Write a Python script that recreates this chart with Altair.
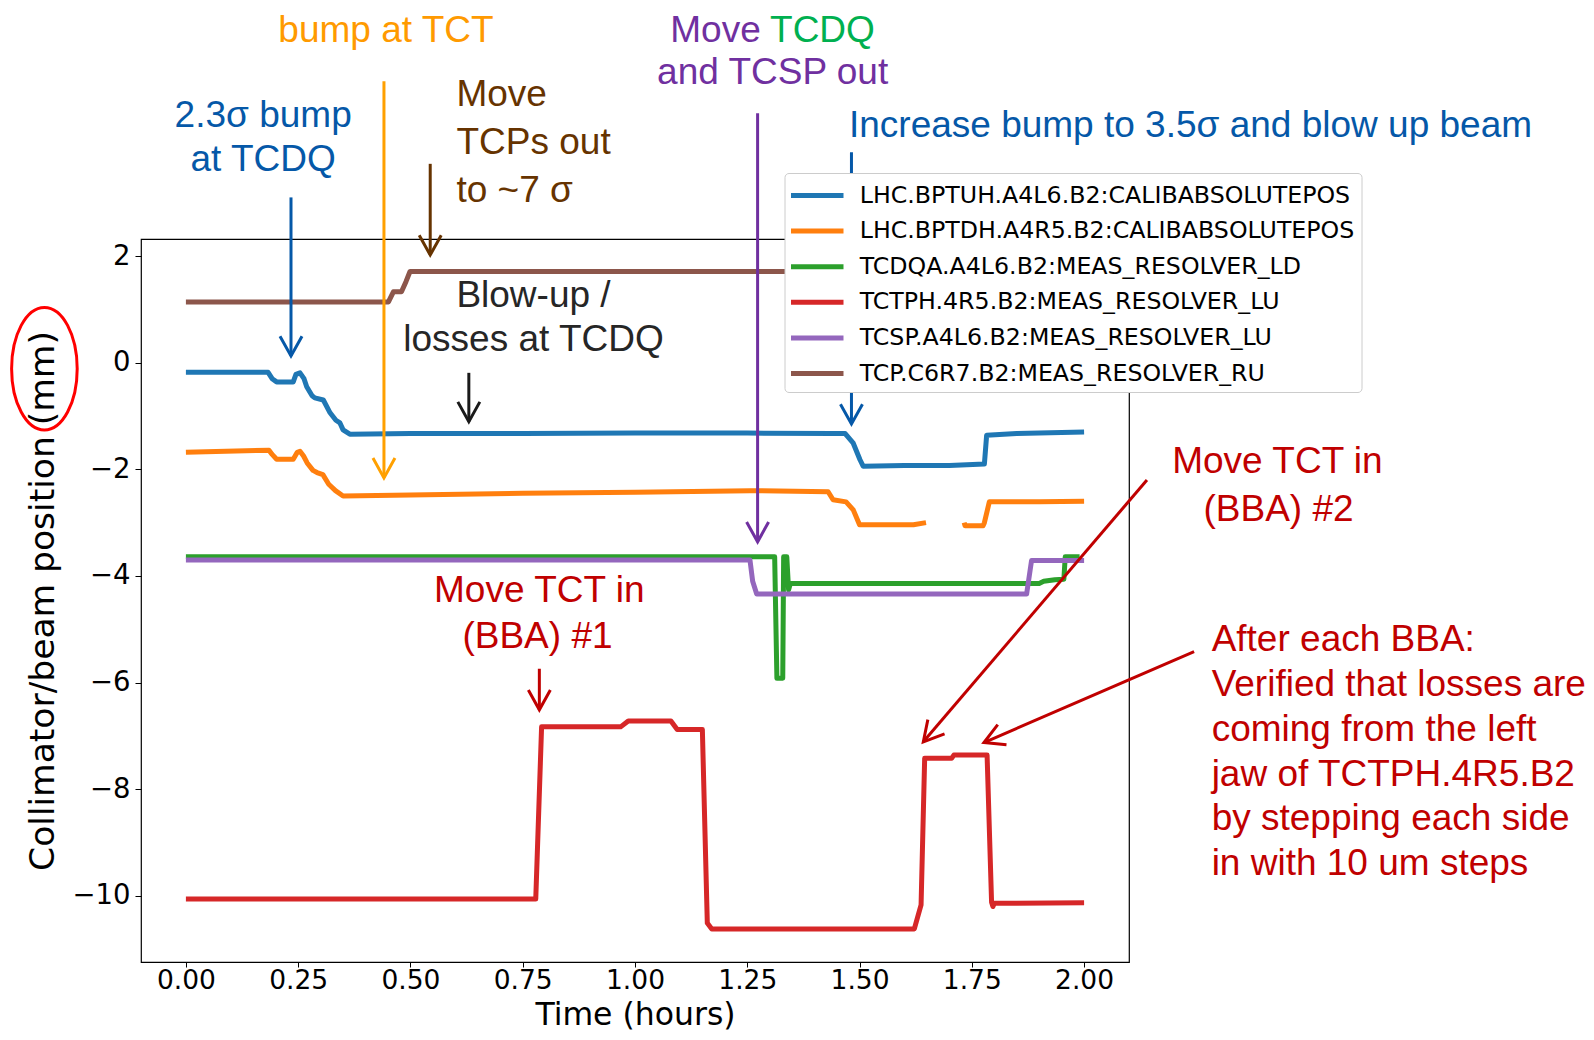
import altair as alt
import pandas as pd

# ---------------- series ----------------
SERIES = [
    "LHC.BPTUH.A4L6.B2:CALIBABSOLUTEPOS",
    "LHC.BPTDH.A4R5.B2:CALIBABSOLUTEPOS",
    "TCDQA.A4L6.B2:MEAS_RESOLVER_LD",
    "TCTPH.4R5.B2:MEAS_RESOLVER_LU",
    "TCSP.A4L6.B2:MEAS_RESOLVER_LU",
    "TCP.C6R7.B2:MEAS_RESOLVER_RU",
]
COLORS = ["#1f77b4", "#ff7f0e", "#2ca02c", "#d62728", "#9467bd", "#8c564b"]

bptuh_t = [0.0, 0.183, 0.192, 0.202, 0.239, 0.245, 0.254, 0.263, 0.269, 0.281, 0.287,
           0.306, 0.321, 0.334, 0.343, 0.350, 0.365, 0.50, 0.75, 1.00, 1.25, 1.44,
           1.468, 1.486, 1.501, 1.508, 1.60, 1.70, 1.778, 1.783, 1.85, 2.0]
bptuh_y = [-0.18, -0.18, -0.30, -0.36, -0.36, -0.22, -0.19, -0.30, -0.45, -0.62, -0.66,
           -0.70, -0.94, -1.08, -1.13, -1.26, -1.34, -1.33, -1.33, -1.32, -1.32, -1.33,
           -1.33, -1.51, -1.82, -1.94, -1.93, -1.93, -1.90, -1.36, -1.33, -1.30]

bptdh_t_a = [0.0, 0.185, 0.192, 0.202, 0.239, 0.248, 0.254, 0.262, 0.270, 0.283, 0.292,
             0.305, 0.318, 0.333, 0.350, 0.50, 0.75, 1.00, 1.256, 1.43, 1.441, 1.47,
             1.486, 1.50, 1.62, 1.648]
bptdh_y_a = [-1.68, -1.64, -1.72, -1.81, -1.81, -1.68, -1.66, -1.75, -1.88, -2.02, -2.06,
             -2.10, -2.28, -2.40, -2.50, -2.48, -2.45, -2.43, -2.40, -2.42, -2.57, -2.61,
             -2.76, -3.04, -3.04, -3.00]
bptdh_t_b = [1.733, 1.735, 1.775, 1.778, 1.789, 1.90, 2.0]
bptdh_y_b = [-3.00, -3.06, -3.06, -3.00, -2.61, -2.61, -2.60]

tcdqa_t = [0.0, 1.311, 1.316, 1.329, 1.331, 1.338, 1.342, 1.346, 1.90, 1.91, 1.935,
           1.955, 1.958, 1.99]
tcdqa_y = [-3.64, -3.64, -5.92, -5.92, -3.64, -3.64, -4.26, -4.14, -4.14, -4.10, -4.07,
           -4.06, -3.64, -3.64]

tctph_t = [0.0, 0.779, 0.792, 0.968, 0.985, 1.080, 1.094, 1.150, 1.161, 1.171, 1.622,
           1.637, 1.645, 1.705, 1.710, 1.784, 1.794, 1.797, 1.800, 2.0]
tctph_y = [-10.06, -10.06, -6.83, -6.83, -6.72, -6.72, -6.88, -6.88, -10.51, -10.62, -10.62,
           -10.17, -7.42, -7.42, -7.36, -7.36, -10.12, -10.20, -10.14, -10.13]

tcsp_t = [0.0, 1.256, 1.262, 1.271, 1.872, 1.883, 2.0]
tcsp_y = [-3.70, -3.70, -4.10, -4.34, -4.34, -3.71, -3.71]

tcp_t = [0.0, 0.451, 0.462, 0.480, 0.490, 0.499, 1.00, 1.50, 2.0]
tcp_y = [1.14, 1.14, 1.33, 1.33, 1.52, 1.71, 1.71, 1.71, 1.71]

X_TICKS = [0.0, 0.25, 0.5, 0.75, 1.0, 1.25, 1.5, 1.75, 2.0]
Y_TICKS = [-10, -8, -6, -4, -2, 0, 2]

# ---------------- annotations ----------------
BLUE_T, ORANGE_T, BROWN_T, GRAY_T = "#0558A8", "#FF9A00", "#663300", "#262626"
PURPLE_T, GREEN_T, RED_T = "#7030A0", "#00B050", "#C00000"

center_text = ["bump at TCT", "and TCSP out", "2.3σ bump", "at TCDQ", "Blow-up /",
               "losses at TCDQ", "Move TCT in", "(BBA) #1", "Move TCT in", "(BBA) #2"]
center_x = [0.4454, 1.3065, 0.172, 0.172, 0.774, 0.774, 0.7868, 0.7829, 2.4305, 2.433]
center_y = [6.23, 5.43, 4.62, 3.81, 1.245, 0.426, -4.28, -5.145, -1.87, -2.76]
center_c = [ORANGE_T, PURPLE_T, BLUE_T, BLUE_T, GRAY_T, GRAY_T, RED_T, RED_T, RED_T, RED_T]

left_text = ["Move", "TCDQ", "Move", "TCPs out", "to ~7 σ",
             "Increase bump to 3.5σ and blow up beam",
             "After each BBA:", "Verified that losses are", "coming from the left",
             "jaw of TCTPH.4R5.B2", "by stepping each side", "in with 10 um steps"]
left_x = [1.0785, 1.3007, 0.6024, 0.6024, 0.6024, 1.4764,
          2.284, 2.284, 2.284, 2.284, 2.284, 2.284]
left_y = [6.23, 6.23, 5.03, 4.12, 3.22, 4.43,
          -5.205, -6.048, -6.898, -7.736, -8.567, -9.407]
left_c = [PURPLE_T, GREEN_T, BROWN_T, BROWN_T, BROWN_T, BLUE_T,
          RED_T, RED_T, RED_T, RED_T, RED_T, RED_T]

arrow_x0 = [0.234, 0.441, 0.544, 0.630, 1.273, 1.482, 0.787, 2.140, 2.245]
arrow_y0 = [3.10, 5.28, 3.73, -0.19, 4.68, 3.945, -5.74, -2.20, -5.42]
arrow_x1 = [0.234, 0.441, 0.544, 0.630, 1.273, 1.482, 0.787, 1.642, 1.777]
arrow_y1 = [0.126, -2.16, 2.02, -1.106, -3.36, -1.15, -6.51, -7.11, -7.125]
arrow_angle = [0, 0, 0, 0, 0, 0, 0, 40.6, 66.6]
arrow_c = [BLUE_T, "#FFA000", BROWN_T, "#1A1A1A", PURPLE_T, BLUE_T, RED_T, RED_T, RED_T]

ellipse_x = [-0.3151]
ellipse_y = [-0.1125]

# ---------------- tables ----------------
rows = []
def add(name, seg, ts, ys):
    for t, y in zip(ts, ys):
        rows.append({"series": name, "seg": seg, "t": t, "y": y})

add(SERIES[0], "a", bptuh_t, bptuh_y)
add(SERIES[1], "a", bptdh_t_a, bptdh_y_a)
add(SERIES[1], "b", bptdh_t_b, bptdh_y_b)
add(SERIES[2], "a", tcdqa_t, tcdqa_y)
add(SERIES[3], "a", tctph_t, tctph_y)
add(SERIES[4], "a", tcsp_t, tcsp_y)
add(SERIES[5], "a", tcp_t, tcp_y)
df = pd.DataFrame(rows)

ctext = pd.DataFrame({"t": center_x, "y": center_y, "label": center_text, "c": center_c})
ltext = pd.DataFrame({"t": left_x, "y": left_y, "label": left_text, "c": left_c})
arrows = pd.DataFrame({"t": arrow_x0, "y": arrow_y0, "t2": arrow_x1, "y2": arrow_y1,
                       "ang": arrow_angle, "c": arrow_c})
ell = pd.DataFrame({"t": ellipse_x, "y": ellipse_y})

XS = alt.Scale(domain=[-0.1, 2.1], nice=False, zero=False)
YS = alt.Scale(domain=[-11.24, 2.32], nice=False, zero=False)
XT = "Time (hours)"
YT = "Collimator/beam position (mm)"

x_axis = alt.Axis(values=X_TICKS, format=".2f", grid=False, domain=False,
                  tickSize=5, tickColor="black", labelPadding=0, labelFontSize=26.5,
                  labelFont="DejaVu Sans", labelColor="black", titleFontSize=31.5,
                  titleFont="DejaVu Sans", titleFontWeight="normal", titleColor="black",
                  titlePadding=5.8, labelFlush=False)
y_axis = alt.Axis(values=Y_TICKS, format="d", grid=False, domain=False,
                  tickSize=6, tickColor="black", labelPadding=5, labelFontSize=27.5,
                  labelFont="DejaVu Sans", labelColor="black", titleFontSize=34.5,
                  titleFont="DejaVu Sans", titleFontWeight="normal", titleColor="black",
                  titlePadding=11, labelFlush=False)

def X(f="t"):
    return alt.X(f"{f}:Q", scale=XS, axis=x_axis, title=XT)

def Y(f="y"):
    return alt.Y(f"{f}:Q", scale=YS, axis=y_axis, title=YT)

legend = alt.Legend(
    orient="none", legendX=643.5, legendY=-66, title=None,
    symbolType="M-2,0H2", symbolSize=689, symbolStrokeWidth=5, symbolOffset=10.25,
    labelOffset=26.5, rowPadding=7.6, padding=6.5,
    fillColor="white", strokeColor="#cccccc", cornerRadius=4,
    labelFont="DejaVu Sans", labelFontSize=23.7, labelColor="black", labelLimit=1000,
)

lines = alt.Chart(df).mark_line(strokeWidth=5, strokeJoin="round", clip=True).encode(
    x=X(), y=Y(),
    color=alt.Color("series:N", scale=alt.Scale(domain=SERIES, range=COLORS), legend=legend),
    detail="seg:N",
    order="t:Q",
)

shafts = alt.Chart(arrows).mark_rule(strokeWidth=3).encode(
    x=X(), y=Y(), x2="t2:Q", y2="y2:Q",
    stroke=alt.Stroke("c:N", scale=None),
)

heads = alt.Chart(arrows).mark_point(
    shape="M-1,-1.8L0,0L1,-1.8", filled=False, strokeWidth=3, size=484, opacity=1
).encode(
    x=X("t2"), y=Y("y2"),
    angle=alt.Angle("ang:Q", scale=None),
    stroke=alt.Stroke("c:N", scale=None),
)

ctext_l = alt.Chart(ctext).mark_text(font="Liberation Sans", fontSize=37, align="center",
                                     baseline="middle").encode(
    x=X(), y=Y(), text="label:N", fill=alt.Fill("c:N", scale=None))

ltext_l = alt.Chart(ltext).mark_text(font="Liberation Sans", fontSize=37, align="left",
                                     baseline="middle").encode(
    x=X(), y=Y(), text="label:N", fill=alt.Fill("c:N", scale=None))

ellipse = alt.Chart(ell).mark_point(
    shape="M0,-1C0.2955,-1 0.535,-0.5523 0.535,0C0.535,0.5523 0.2955,1 0,1C-0.2955,1 -0.535,0.5523 -0.535,0C-0.535,-0.5523 -0.2955,-1 0,-1Z",
    filled=False, stroke="#FF0000", strokeWidth=3, size=15031, opacity=1,
).encode(x=X(), y=Y())

chart = alt.layer(lines, shafts, heads, ctext_l, ltext_l, ellipse).properties(
    width=988, height=723,
    autosize=alt.AutoSizeParams(type="none"),
    padding={"left": 133, "top": 231, "right": 457, "bottom": 70},
    background="white",
).configure_view(stroke="black", strokeWidth=1.2)

chart.save("out.html", embed_options={"renderer": "svg", "actions": False})
